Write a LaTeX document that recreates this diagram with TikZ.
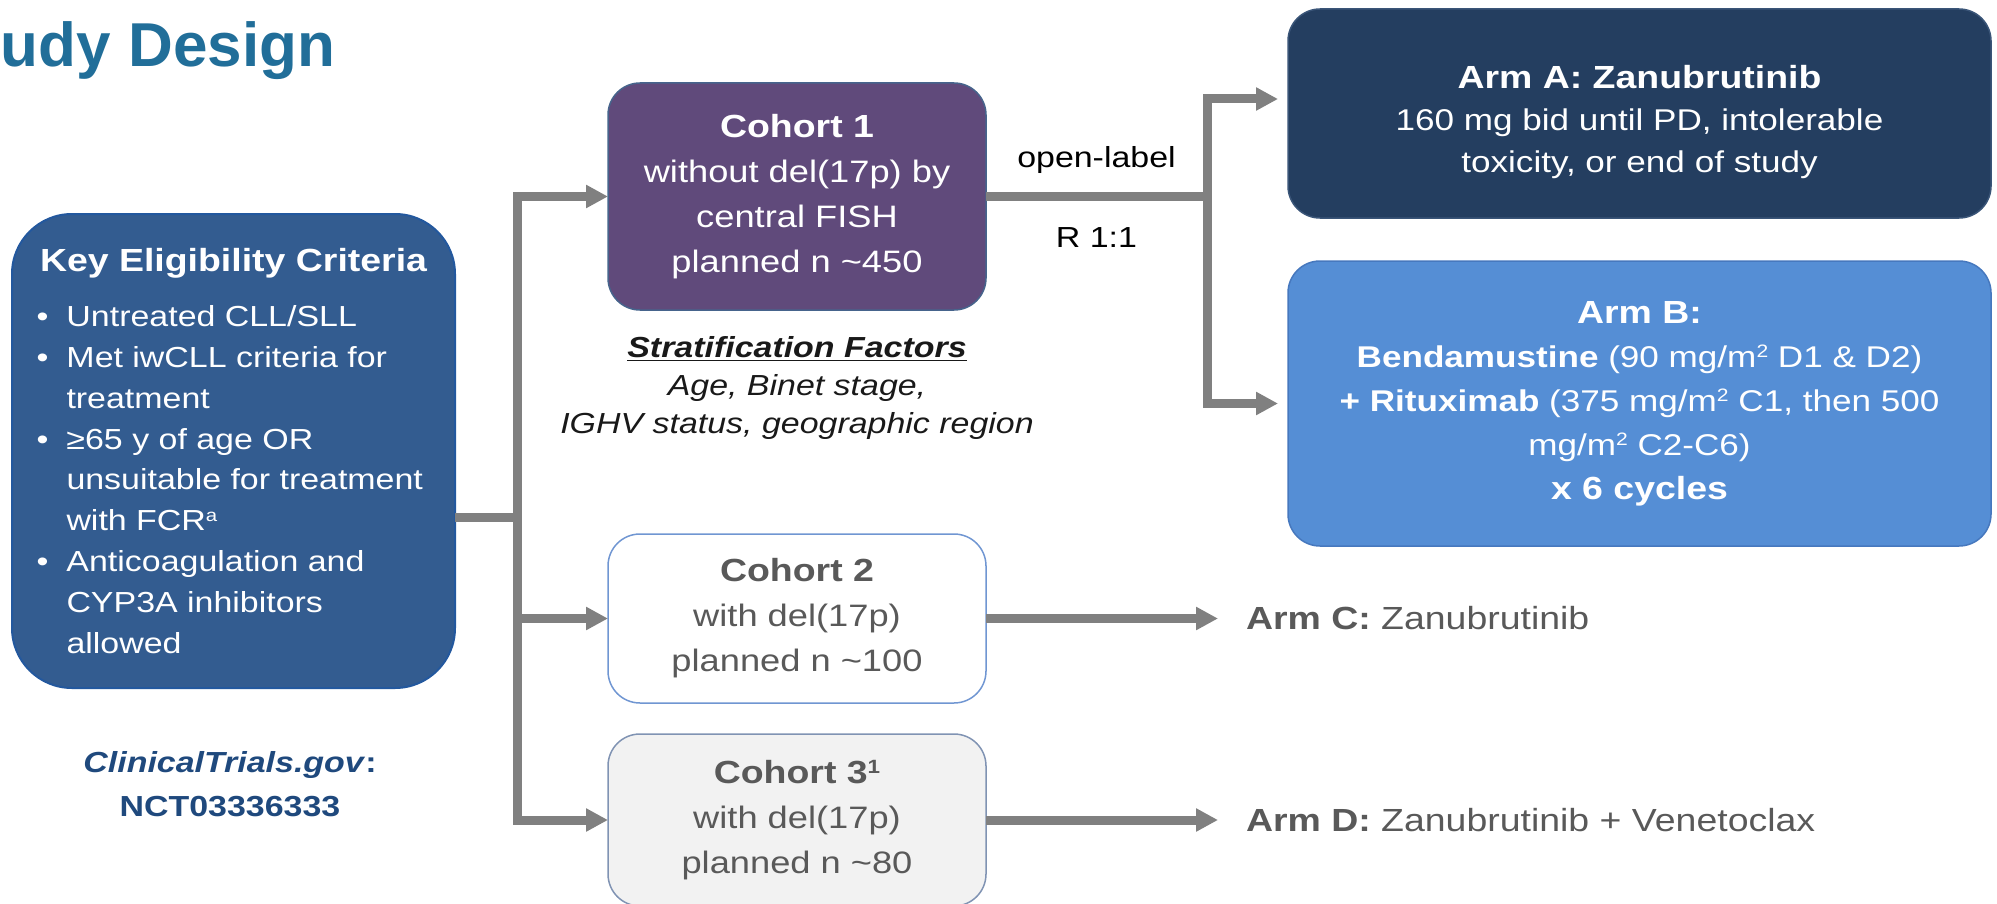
\documentclass[tikz,border=0pt]{standalone}
\usepackage{fontspec}
\usepackage{graphicx}
\setmainfont{Liberation Sans}[FakeStretch=1.17]
\newfontfamily\headfont{Liberation Sans}
\usetikzlibrary{arrows.meta}
\definecolor{titleblue}{RGB}{33,110,153}
\definecolor{keyfill}{RGB}{51,92,144}
\definecolor{keyedge}{RGB}{35,88,158}
\definecolor{cohortpurple}{RGB}{96,74,123}
\definecolor{cohortedge}{RGB}{70,100,140}
\definecolor{armanavy}{RGB}{36,62,96}
\definecolor{armaedge}{RGB}{58,85,120}
\definecolor{armbblue}{RGB}{85,142,213}
\definecolor{armbedge}{RGB}{70,120,190}
\definecolor{paleedge}{RGB}{112,150,210}
\definecolor{greyedge}{RGB}{128,147,179}
\definecolor{palefill}{RGB}{242,242,242}
\definecolor{linkgray}{RGB}{128,128,128}
\definecolor{textgray}{RGB}{89,89,89}
\definecolor{ctblue}{RGB}{31,73,125}
\newcommand{\critem}[1]{\par\hangindent=15pt\hangafter=1\noindent\makebox[15pt][l]{\textbullet}#1}
\newcommand{\supr}[1]{\raisebox{0.32em}{\scalebox{0.6}{#1}}}
\begin{document}
\begin{tikzpicture}[x=0.5pt,y=-0.5pt,inner sep=0pt,outer sep=0pt,
cohortbox/.style={draw,line width=0.75pt,rounded corners=16pt,minimum width=189pt,align=center,font=\fontsize{15.5}{22.5}\selectfont},
armbox/.style={draw,line width=0.75pt,rounded corners=16pt,minimum width=351.5pt,align=center,text=white,font=\fontsize{15}{21}\selectfont},
armtext/.style={anchor=west,text=textgray,font=\fontsize{16}{20}\selectfont},
link/.style={draw=linkgray,line width=4.5pt},
feed/.style={link,-{Triangle[length=11pt,width=11pt]}}]
\useasboundingbox (0,0) rectangle (1997,904);
\node[anchor=base west,text=titleblue,font=\headfont\bfseries\fontsize{31}{36}\selectfont] (heading) at (1,67) {udy Design};
% eligibility
\node[draw=keyedge,fill=keyfill,line width=1pt,rounded corners=30pt,minimum width=221.5pt,minimum height=237pt,text=white] (keybox) at (233.5,451) {\parbox{197pt}{\centering\fontsize{16}{20}\selectfont\bfseries Key Eligibility Criteria\par
\vspace{7.1pt}\raggedright\fontsize{14.5}{20.4}\selectfont\mdseries
\critem{Untreated CLL/SLL}
\critem{Met iwCLL criteria for\newline treatment}
\critem{≥65 y of age OR\newline unsuitable for treatment\newline with FCR\supr{a}}
\critem{Anticoagulation and\newline CYP3A inhibitors\newline allowed}}};
\node[anchor=north,align=center,text=ctblue,font=\fontsize{14.5}{22}\selectfont\bfseries] (ctgov) at (230,751) {\textit{ClinicalTrials.gov}:\\NCT03336333};
% cohorts
\node[cohortbox,fill=cohortpurple,draw=cohortedge,text=white,minimum height=113.5pt] (cohort1) at (797,196.5) {\textbf{\fontsize{16}{22.5}\selectfont Cohort 1}\\without del(17p) by\\central FISH\\planned n \textasciitilde450};
\node[cohortbox,fill=white,draw=paleedge,text=textgray,minimum height=84.5pt] (cohort2) at (797,618.5) {\textbf{\fontsize{16}{22}\selectfont Cohort 2}\\with del(17p)\\planned n \textasciitilde100};
\node[cohortbox,fill=palefill,draw=greyedge,text=textgray,minimum height=86pt] (cohort3) at (797,820) {\textbf{\fontsize{16}{22}\selectfont Cohort 3\supr{1}}\\with del(17p)\\planned n \textasciitilde80};
\node[anchor=north,align=center,font=\fontsize{14.5}{19}\selectfont\itshape,text=black!90] (strat) at (797,336) {\underline{\textbf{Stratification Factors}}\\Age, Binet stage,\\IGHV status, geographic region};
% arms
\node[armbox,fill=armanavy,draw=armaedge,minimum height=104.5pt] (armA) at (1639.5,113.5) {\rule{0pt}{20.5pt}\textbf{\fontsize{16}{21}\selectfont Arm A: Zanubrutinib}\\160 mg bid until PD, intolerable\\toxicity, or end of study};
\node[armbox,fill=armbblue,draw=armbedge,minimum height=142.5pt,font=\fontsize{15}{22}\selectfont] (armB) at (1639.5,403.5) {\textbf{\fontsize{16}{22}\selectfont Arm B:}\\\textbf{Bendamustine} (90 mg/m\supr{2} D1 \& D2)\\\textbf{+ Rituximab} (375 mg/m\supr{2} C1, then 500\\mg/m\supr{2} C2-C6)\\\textbf{\fontsize{16}{22}\selectfont x 6 cycles}};
\node[armtext] (armC) at (1246,618.5) {\textbf{Arm C:} Zanubrutinib};
\node[armtext] (armD) at (1246,820) {\textbf{Arm D:} Zanubrutinib + Venetoclax};
% connectors
\coordinate (trunk) at (517,517);
\coordinate (split) at (1207,196.5);
\coordinate (splittop) at (1207,99);
\draw[link] (keybox.east |- trunk) -- (trunk);
\draw[feed] (trunk) |- (cohort1.west);
\draw[feed] (trunk) |- (cohort2.west);
\draw[feed] (trunk) |- (cohort3.west);
\draw[link] (cohort1.east) -- node[above=11.5pt,font=\fontsize{14.5}{18}\selectfont] (openlbl) {open-label} node[below=15.5pt,font=\fontsize{14.5}{18}\selectfont] (ratio) {R 1:1} (split);
\draw[feed,shorten >=5pt] (split) |- (splittop -| armA.west);
\draw[feed,shorten >=5pt] (split) |- (armB.west);
\draw[feed,shorten >=14pt] (cohort2.east) -- (armC.west);
\draw[feed,shorten >=14pt] (cohort3.east) -- (armD.west);
\end{tikzpicture}
\end{document}
